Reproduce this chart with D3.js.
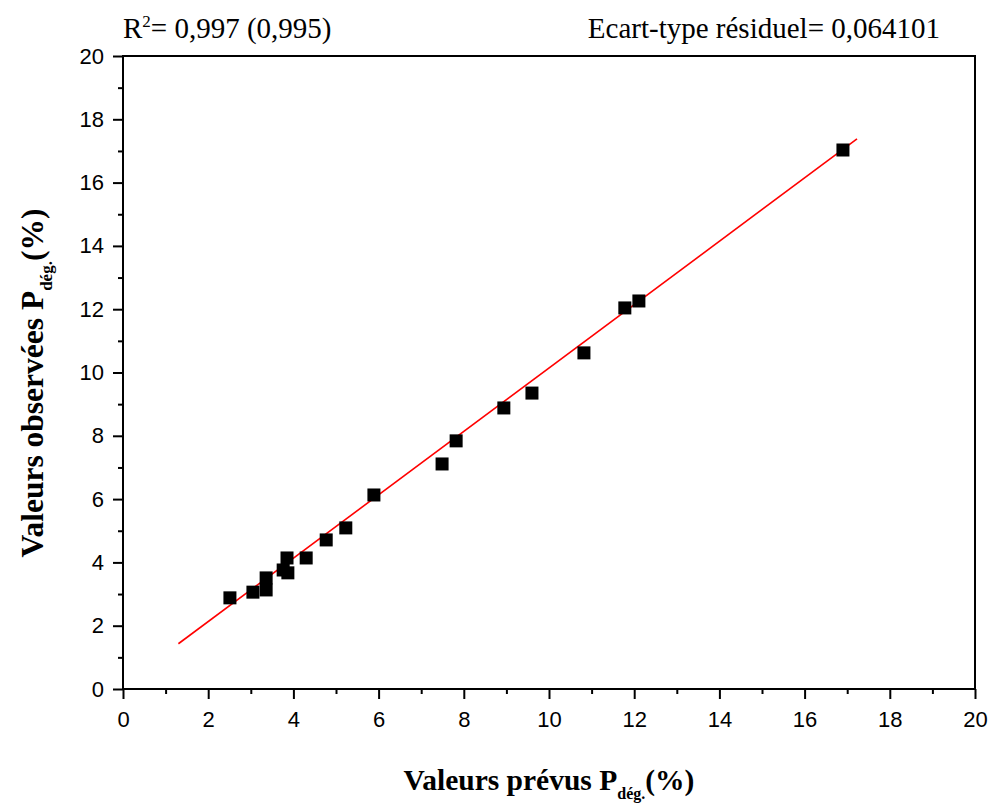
<!DOCTYPE html>
<html>
<head>
<meta charset="utf-8">
<script src="https://d3js.org/d3.v7.min.js"></script>
<style>
  body { margin: 0; background: #fff; }
  svg text { fill: #000; }
</style>
</head>
<body>
<script>
// valeurs
var predicted = [2.51, 3.05, 3.36, 3.36, 3.76, 3.85, 3.87, 4.30, 4.77, 5.23, 5.89, 7.49, 7.82, 8.94, 9.60, 10.82, 11.78, 12.11, 16.90];
var observed  = [2.88, 3.06, 3.13, 3.51, 3.76, 4.14, 3.67, 4.14, 4.71, 5.09, 6.13, 7.11, 7.84, 8.88, 9.35, 10.62, 12.04, 12.26, 17.03];
var fitX = [1.30, 17.23];
var fitY = [1.43, 17.38];
var majorTicks = [0, 2, 4, 6, 8, 10, 12, 14, 16, 18, 20];
var minorTicks = [1, 3, 5, 7, 9, 11, 13, 15, 17, 19];

var W = 992, H = 803;
var pLeft = 123, pRight = 975, pTop = 56, pBottom = 689;

var svg = d3.select("body").append("svg")
    .attr("width", W)
    .attr("height", H);

var x = d3.scaleLinear().domain([0, 20]).range([pLeft, pRight]);
var y = d3.scaleLinear().domain([0, 20]).range([pBottom, pTop]);

// cadre
svg.append("rect")
    .attr("x", pLeft).attr("y", pTop)
    .attr("width", pRight - pLeft).attr("height", pBottom - pTop)
    .attr("fill", "none").attr("stroke", "#000").attr("stroke-width", 2);

// axes
var xAxis = svg.append("g").attr("transform", "translate(0," + pBottom + ")")
    .call(d3.axisBottom(x).tickValues(majorTicks).tickSize(10).tickPadding(12).tickFormat(d3.format("d")));
var xMinor = svg.append("g").attr("transform", "translate(0," + pBottom + ")")
    .call(d3.axisBottom(x).tickValues(minorTicks).tickSize(5).tickFormat(""));
var yAxis = svg.append("g").attr("transform", "translate(" + pLeft + ",0)")
    .call(d3.axisLeft(y).tickValues(majorTicks).tickSize(10).tickPadding(9).tickFormat(d3.format("d")));
var yMinor = svg.append("g").attr("transform", "translate(" + pLeft + ",0)")
    .call(d3.axisLeft(y).tickValues(minorTicks).tickSize(5).tickFormat(""));

[xAxis, xMinor, yAxis, yMinor].forEach(function(g) {
    g.select(".domain").remove();
    g.selectAll("line").attr("stroke", "#000").attr("stroke-width", 2);
    g.selectAll("text")
        .attr("font-family", "Liberation Sans, Arial, sans-serif")
        .attr("font-size", 22)
        .attr("fill", "#000");
});

// droite d'ajustement
svg.append("line")
    .attr("x1", x(fitX[0])).attr("y1", y(fitY[0]))
    .attr("x2", x(fitX[1])).attr("y2", y(fitY[1]))
    .attr("stroke", "#ff0000").attr("stroke-width", 1.6);

// points
var s = 13;
svg.selectAll("rect.pt")
    .data(predicted)
    .enter().append("rect")
    .attr("class", "pt")
    .attr("x", function(d) { return x(d) - s / 2; })
    .attr("y", function(d, i) { return y(observed[i]) - s / 2; })
    .attr("width", s).attr("height", s)
    .attr("fill", "#000");

// textes
var serif = "Liberation Serif, Times New Roman, serif";

var t1 = svg.append("text")
    .attr("x", 123).attr("y", 38)
    .attr("font-family", serif).attr("font-size", 29);
t1.append("tspan").text("R");
t1.append("tspan").attr("font-size", 17).attr("dy", -11).text("2");
t1.append("tspan").attr("dy", 11).text("= 0,997 (0,995)");

svg.append("text")
    .attr("x", 940).attr("y", 38)
    .attr("text-anchor", "end")
    .attr("font-family", serif).attr("font-size", 29)
    .text("Ecart-type résiduel= 0,064101");

var xl = svg.append("text")
    .attr("x", 549).attr("y", 790)
    .attr("text-anchor", "middle")
    .attr("font-family", serif).attr("font-size", 29.5).attr("font-weight", "bold");
xl.append("tspan").text("Valeurs prévus P");
xl.append("tspan").attr("font-size", 16).attr("dy", 9).text("dég.");
xl.append("tspan").attr("dy", -9).text("(%)");

var yl = svg.append("text")
    .attr("transform", "translate(43,383) rotate(-90)")
    .attr("text-anchor", "middle")
    .attr("font-family", serif).attr("font-size", 31.5).attr("font-weight", "bold");
yl.append("tspan").text("Valeurs observées P");
yl.append("tspan").attr("font-size", 17).attr("dy", 9).text("dég.");
yl.append("tspan").attr("dy", -9).text("(%)");
</script>
</body>
</html>
